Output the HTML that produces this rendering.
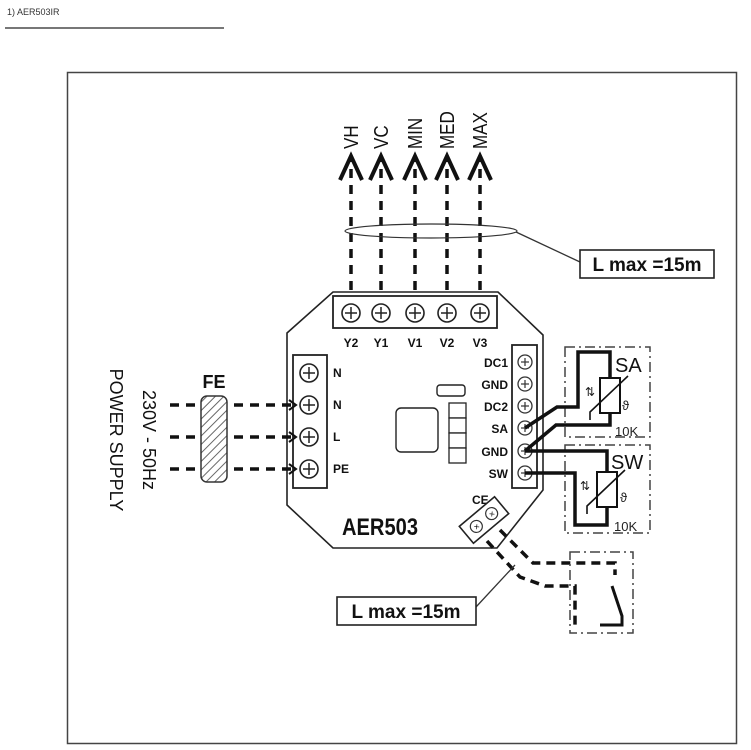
<!DOCTYPE html>
<html><head><meta charset="utf-8"><style>
html,body{margin:0;padding:0;background:#fff;}
svg{display:block;font-family:"Liberation Sans",sans-serif;}
</style></head><body>
<svg width="751" height="750" viewBox="0 0 751 750" xmlns="http://www.w3.org/2000/svg">
<defs>
<pattern id="h" width="6" height="6" patternUnits="userSpaceOnUse" patternTransform="rotate(45)">
<rect width="6" height="6" fill="#fff"/><line x1="0" y1="0" x2="0" y2="6" stroke="#666" stroke-width="2"/></pattern>
<g id="scr"><circle r="9" fill="#fff" stroke="#222" stroke-width="1.6"/><line x1="-6" y1="0" x2="6" y2="0" stroke="#222" stroke-width="1.5"/><line x1="0" y1="-6" x2="0" y2="6" stroke="#222" stroke-width="1.5"/></g>
<g id="scs"><circle r="7" fill="#fff" stroke="#333" stroke-width="1.3"/><line x1="-4" y1="0" x2="4" y2="0" stroke="#333" stroke-width="1.2"/><line x1="0" y1="-4" x2="0" y2="4" stroke="#333" stroke-width="1.2"/></g>
</defs>
<text x="7" y="15" font-size="9" fill="#333">1) AER503IR</text>
<line x1="5" y1="28" x2="224" y2="28" stroke="#777" stroke-width="2"/>
<rect x="67.5" y="72.5" width="669" height="671" fill="none" stroke="#444" stroke-width="1.5"/>

<!-- top wires -->
<g stroke="#111" stroke-width="3.5" stroke-dasharray="9,7" fill="none">
<line x1="351" y1="290" x2="351" y2="165"/><line x1="381" y1="290" x2="381" y2="165"/><line x1="415" y1="290" x2="415" y2="165"/><line x1="447" y1="290" x2="447" y2="165"/><line x1="480" y1="290" x2="480" y2="165"/>
</g>
<g stroke="#111" stroke-width="4" fill="none" stroke-linejoin="miter">
<path d="M340 180 L351 156 L362 180"/><path d="M370 180 L381 156 L392 180"/><path d="M404 180 L415 156 L426 180"/><path d="M436 180 L447 156 L458 180"/><path d="M469 180 L480 156 L491 180"/>
</g>
<g fill="#111"><path d="M351 152 L355 162 L347 162Z"/><path d="M381 152 L385 162 L377 162Z"/><path d="M415 152 L419 162 L411 162Z"/><path d="M447 152 L451 162 L443 162Z"/><path d="M480 152 L484 162 L476 162Z"/></g>
<g font-size="20" fill="#111">
<text transform="translate(358,149) rotate(-90) scale(0.85,1)">VH</text>
<text transform="translate(388,149) rotate(-90) scale(0.85,1)">VC</text>
<text transform="translate(422,149) rotate(-90) scale(0.85,1)">MIN</text>
<text transform="translate(454,149) rotate(-90) scale(0.85,1)">MED</text>
<text transform="translate(487,149) rotate(-90) scale(0.85,1)">MAX</text>
</g>
<ellipse cx="431" cy="231" rx="86" ry="7" fill="none" stroke="#333" stroke-width="1.2"/>
<line x1="516" y1="232" x2="580" y2="262" stroke="#333" stroke-width="1.3"/>
<rect x="580" y="250" width="134" height="28" fill="#fff" stroke="#222" stroke-width="1.6"/>
<text x="647" y="271" font-size="19" font-weight="bold" text-anchor="middle" fill="#111">L max =15m</text>

<!-- module -->
<path d="M333 292 L498 292 L543 335 L543 490 L497 548 L333 548 L287 505 L287 333 Z" fill="#fff" stroke="#222" stroke-width="1.6"/>
<rect x="333" y="296" width="164" height="32" fill="#fff" stroke="#222" stroke-width="1.8"/>
<use href="#scr" x="351" y="313"/><use href="#scr" x="381" y="313"/><use href="#scr" x="415" y="313"/><use href="#scr" x="447" y="313"/><use href="#scr" x="480" y="313"/>
<g font-size="12" font-weight="bold" fill="#111" text-anchor="middle">
<text x="351" y="347">Y2</text><text x="381" y="347">Y1</text><text x="415" y="347">V1</text><text x="447" y="347">V2</text><text x="480" y="347">V3</text>
</g>
<rect x="293" y="355" width="34" height="133" fill="#fff" stroke="#222" stroke-width="1.8"/>
<use href="#scr" x="309" y="373"/><use href="#scr" x="309" y="405"/><use href="#scr" x="309" y="437"/><use href="#scr" x="309" y="469"/>
<g font-size="12" font-weight="bold" fill="#111">
<text x="333" y="377">N</text><text x="333" y="409">N</text><text x="333" y="441">L</text><text x="333" y="473">PE</text>
</g>
<rect x="512" y="345" width="25" height="143" fill="#fff" stroke="#222" stroke-width="1.8"/>
<use href="#scs" x="525" y="362"/><use href="#scs" x="525" y="384"/><use href="#scs" x="525" y="406"/><use href="#scs" x="525" y="428"/><use href="#scs" x="525" y="451"/><use href="#scs" x="525" y="473"/>
<g font-size="12" font-weight="bold" fill="#111" text-anchor="end">
<text x="508" y="367">DC1</text><text x="508" y="389">GND</text><text x="508" y="411">DC2</text><text x="508" y="433">SA</text><text x="508" y="456">GND</text><text x="508" y="478">SW</text>
</g>
<rect x="437" y="385" width="28" height="11" rx="3" fill="#fff" stroke="#222" stroke-width="1.4"/>
<rect x="396" y="408" width="42" height="44" rx="5" fill="#fff" stroke="#222" stroke-width="1.4"/>
<g fill="#fff" stroke="#222" stroke-width="1.3">
<rect x="449" y="403" width="17" height="15"/><rect x="449" y="418" width="17" height="15"/><rect x="449" y="433" width="17" height="15"/><rect x="449" y="448" width="17" height="15"/>
</g>
<text x="342" y="535" font-size="24" font-weight="bold" fill="#111" textLength="76" lengthAdjust="spacingAndGlyphs">AER503</text>
<!-- CE -->
<text x="472" y="504" font-size="12" font-weight="bold" fill="#111">CE</text>
<g transform="translate(484,520) rotate(-40)">
<rect x="-23" y="-11" width="46" height="22" fill="#fff" stroke="#222" stroke-width="1.6"/>
<circle cx="-10" cy="0" r="6" fill="none" stroke="#333" stroke-width="1.2"/><circle cx="10" cy="0" r="6" fill="none" stroke="#333" stroke-width="1.2"/>
<text x="-10" y="3.5" font-size="9" text-anchor="middle">×</text><text x="10" y="3.5" font-size="9" text-anchor="middle">×</text>
</g>
<g stroke="#111" stroke-width="3.5" stroke-dasharray="9,6" fill="none">
<path d="M500 530 L533 563 L560 563 L615 563 L615 575"/>
<path d="M487 541 L520 577 L545 586 L575 586 L575 625"/>
</g>
<g stroke="#111" stroke-width="3" fill="none">
<path d="M612 586 L622 616 L622 625 L600 625"/>
</g>
<rect x="570" y="552" width="63" height="81" fill="none" stroke="#444" stroke-width="1.5" stroke-dasharray="10,4,2,4"/>
<line x1="476" y1="607" x2="515" y2="565" stroke="#333" stroke-width="1.3"/>
<rect x="337" y="597" width="139" height="28" fill="#fff" stroke="#222" stroke-width="1.6"/>
<text x="406" y="618" font-size="19" font-weight="bold" text-anchor="middle" fill="#111">L max =15m</text>

<!-- sensors -->
<rect x="565" y="347" width="85" height="90" fill="none" stroke="#444" stroke-width="1.5" stroke-dasharray="10,4,2,4"/>
<rect x="565" y="445" width="85" height="88" fill="none" stroke="#444" stroke-width="1.5" stroke-dasharray="10,4,2,4"/>
<g stroke="#111" stroke-width="3.5" fill="none">
<path d="M525 428 L557 407 L578 407 L578 352 L610 352 L610 378"/>
<path d="M610 413 L610 425 L556 425 L525 451"/>
<path d="M525 451 L607 451 L607 472"/>
<path d="M525 473 L575 473 L575 525 L607 525 L607 507"/>
</g>
<rect x="600" y="378" width="20" height="35" fill="#fff" stroke="#111" stroke-width="2"/>
<rect x="597" y="472" width="20" height="35" fill="#fff" stroke="#111" stroke-width="2"/>
<path d="M590 420 L590 412 L628 376" stroke="#111" stroke-width="1.6" fill="none"/>
<path d="M587 514 L587 506 L625 470" stroke="#111" stroke-width="1.6" fill="none"/>
<g font-size="20" fill="#111">
<text x="615" y="372">SA</text><text x="611" y="469">SW</text>
</g>
<g font-size="13" fill="#222">
<text x="615" y="436">10K</text><text x="614" y="531">10K</text>
<text x="585" y="396" font-size="12">⇅</text><text x="580" y="490" font-size="12">⇅</text>
<text x="622" y="410">ϑ</text><text x="620" y="502">ϑ</text>
</g>

<!-- power -->
<g stroke="#111" stroke-width="3.5" stroke-dasharray="9,7" fill="none">
<line x1="170" y1="405" x2="292" y2="405"/><line x1="170" y1="437" x2="292" y2="437"/><line x1="170" y1="469" x2="292" y2="469"/>
</g>
<g stroke="#111" stroke-width="2" fill="none">
<path d="M289 400 L296 405 L289 410"/><path d="M289 432 L296 437 L289 442"/><path d="M289 464 L296 469 L289 474"/>
</g>
<rect x="201" y="396" width="26" height="86" rx="6" fill="url(#h)" stroke="#333" stroke-width="1.5"/>
<text x="214" y="388" font-size="18" font-weight="bold" text-anchor="middle" fill="#111">FE</text>
<g font-size="18" fill="#111" text-anchor="middle">
<text transform="translate(143,440) rotate(90)">230V - 50Hz</text>
<text transform="translate(110,440) rotate(90)">POWER SUPPLY</text>
</g>
</svg>
</body></html>
